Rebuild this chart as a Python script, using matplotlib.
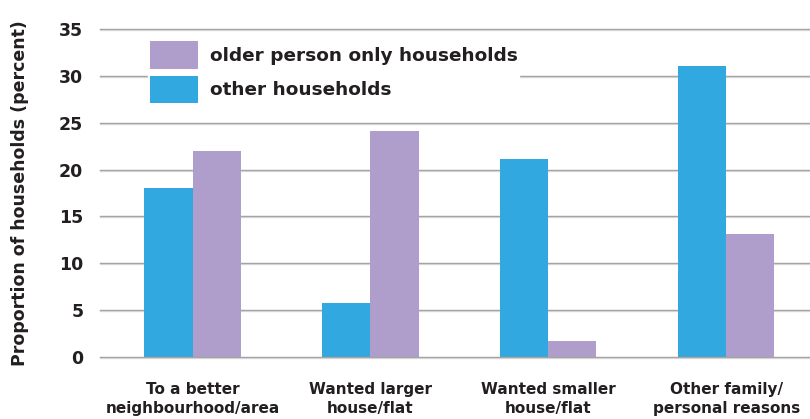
import matplotlib
matplotlib.use("Agg")
import matplotlib.pyplot as plt
import numpy as np
from matplotlib.patches import Patch

categories = ["To a better\nneighbourhood/area", "Wanted larger\nhouse/flat",
              "Wanted smaller\nhouse/flat", "Other family/\npersonal reasons"]
other_households = [18.0, 5.8, 21.1, 31.0]
older_only = [22.0, 24.1, 1.7, 13.1]
yticks = [0, 5, 10, 15, 20, 25, 30, 35]

BLUE = "#31a8e0"
PURPLE = "#af9ecb"
TEXT = "#231f20"
FONT = ["DejaVu Sans"]

fig = plt.figure(figsize=(8.1, 4.19), dpi=100)
ax = fig.add_axes([100 / 810, 62 / 419, 710 / 810, 328 / 419])

x = np.arange(len(categories))
w = 0.27
ax.bar(x - w / 2, other_households, w, color=BLUE, zorder=3)
ax.bar(x + w / 2, older_only, w, color=PURPLE, zorder=3)

ax.set_xlim(-0.52, 3.47)
ax.set_ylim(0, 35)
# gridlines: a grey rule with a lighter shadow just beneath it;
# the baseline sits on top of the bars
for v in yticks:
    z = 4 if v == 0 else 1
    ax.axhline(v, color="#9e9e9e", lw=1.0, zorder=z, clip_on=False)
    ax.axhline(v - 0.1, color="#d4d4d4", lw=0.9, zorder=z, clip_on=False)

for s in ax.spines.values():
    s.set_visible(False)
ax.set_yticks(yticks)
ax.set_yticklabels([str(v) for v in yticks], fontsize=12.5, fontweight="bold",
                   color=TEXT, family=FONT)
ax.tick_params(axis="y", length=0, pad=12)
ax.set_xticks(x)
ax.set_xticklabels(categories, fontsize=11, fontweight="bold", color=TEXT,
                   family=FONT, linespacing=1.35)
ax.tick_params(axis="x", length=0, pad=18)

fig.text(20 / 810, 0.5 + 0.04, "Proportion of households (percent)", rotation=90,
         ha="center", va="center", fontsize=12.5, fontweight="bold", color=TEXT,
         family=FONT)

handles = [Patch(facecolor=PURPLE, label="older person only households"),
           Patch(facecolor=BLUE, label="other households")]
leg = ax.legend(handles=handles, loc="upper left", bbox_to_anchor=(0.055, 0.996),
                frameon=True, fancybox=False, edgecolor="white", framealpha=1,
                handlelength=2.6, handleheight=1.9, handletextpad=0.62,
                labelspacing=0.38, borderpad=0.1,
                prop={"family": FONT, "weight": "bold", "size": 13.3})
for t in leg.get_texts():
    t.set_color(TEXT)
leg.set_zorder(5)

fig.savefig("out.png", dpi=100)
